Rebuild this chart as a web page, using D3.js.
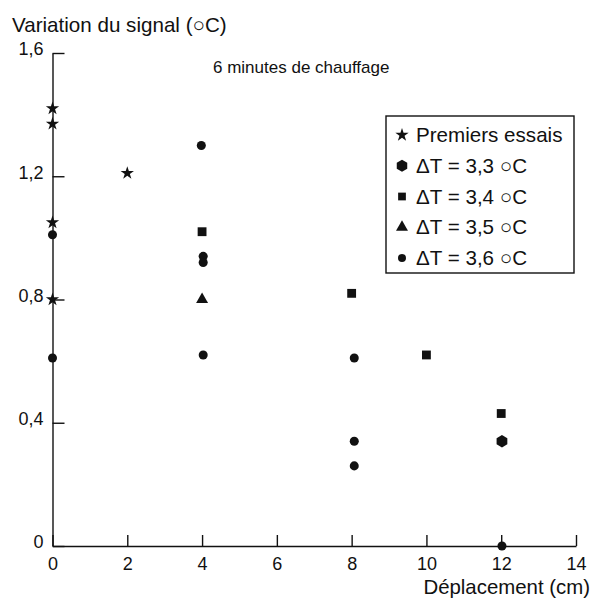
<!DOCTYPE html>
<html>
<head>
<meta charset="utf-8">
<script src="https://cdn.jsdelivr.net/npm/d3@7"></script>
<style>
  html, body { margin: 0; padding: 0; background: #fff; }
  svg { display: block; }
  text { font-family: "Liberation Sans", Arial, Helvetica, sans-serif; fill: #111; }
</style>
</head>
<body>
<svg id="chart" width="593" height="599"></svg>
<script>
// ---- Data ----
const xTicks = [0, 2, 4, 6, 8, 10, 12, 14];
const xTickLabels = ["0", "2", "4", "6", "8", "10", "12", "14"];
const yTicks = [0, 0.4, 0.8, 1.2, 1.6];
const yTickLabels = ["0", "0,4", "0,8", "1,2", "1,6"];

const premiersX = [0, 0, 0, 0, 2];
const premiersY = [1.42, 1.37, 1.05, 0.80, 1.21];

const dt33X = [12.02];
const dt33Y = [0.34];

const dt34X = [4, 8, 10, 12];
const dt34Y = [1.02, 0.82, 0.62, 0.43];

const dt35X = [4];
const dt35Y = [0.80];

const dt36X = [0, 0, 3.98, 4.03, 4.03, 4.03, 8.07, 8.07, 8.07, 12.02];
const dt36Y = [1.01, 0.61, 1.30, 0.94, 0.92, 0.62, 0.61, 0.34, 0.26, 0.0];

const legendLabels = ["Premiers essais", "\u0394T = 3,3 \u25CBC", "\u0394T = 3,4 \u25CBC", "\u0394T = 3,5 \u25CBC", "\u0394T = 3,6 \u25CBC"];

const titleText = "Variation du signal (\u25CBC)";
const subtitleText = "6 minutes de chauffage";
const xAxisTitle = "D\u00E9placement (cm)";

// ---- Layout ----
const svg = d3.select("#chart");
const x = d3.scaleLinear().domain([0, 14]).range([52.5, 576]);
const y = d3.scaleLinear().domain([0, 1.6]).range([546, 53]);

const hexagon = {
  draw(ctx, size) {
    const r = Math.sqrt(size / (1.5 * Math.sqrt(3)));
    for (let i = 0; i < 6; i++) {
      const a = Math.PI / 6 + i * Math.PI / 3;
      const px = r * Math.cos(a), py = r * Math.sin(a);
      if (i === 0) ctx.moveTo(px, py); else ctx.lineTo(px, py);
    }
    ctx.closePath();
  }
};

const series = [
  { xs: premiersX, ys: premiersY, type: d3.symbolStar, size: 55 },
  { xs: dt33X, ys: dt33Y, type: hexagon, size: 100 },
  { xs: dt34X, ys: dt34Y, type: d3.symbolSquare, size: 78 },
  { xs: dt35X, ys: dt35Y, type: d3.symbolTriangle, size: 62 },
  { xs: dt36X, ys: dt36Y, type: d3.symbolCircle, size: 64 }
];

// ---- Axes ----
const yAxis = d3.axisLeft(y)
  .tickValues(yTicks)
  .tickFormat((d, i) => yTickLabels[i])
  .tickSizeInner(-12)
  .tickSizeOuter(0)
  .tickPadding(9);
const gy = svg.append("g").attr("transform", `translate(${x(0)},0)`).call(yAxis);

const xAxis = d3.axisBottom(x)
  .tickValues(xTicks)
  .tickFormat((d, i) => xTickLabels[i])
  .tickSizeInner(-11)
  .tickSizeOuter(0)
  .tickPadding(11.5);
const gx = svg.append("g").attr("transform", `translate(0,${y(0)})`).call(xAxis);

[gx, gy].forEach(g => {
  g.select(".domain").attr("stroke", "#111").attr("stroke-width", 1.4);
  g.selectAll(".tick line").attr("stroke", "#111").attr("stroke-width", 1.4);
  g.selectAll(".tick text").attr("font-size", 18).attr("fill", "#111")
    .style("font-family", "'Liberation Sans', Arial, Helvetica, sans-serif");
});
gy.selectAll(".tick text").attr("dy", "0.1em");
gx.selectAll(".tick text").attr("dy", "0.71em");

// ---- Texts ----
svg.append("text").attr("x", 12).attr("y", 32).attr("font-size", 20.6).text(titleText);
svg.append("text").attr("x", 213).attr("y", 73).attr("font-size", 17).text(subtitleText);
svg.append("text").attr("x", 590).attr("y", 594).attr("font-size", 20.4)
  .attr("text-anchor", "end").text(xAxisTitle);

// ---- Points ----
series.forEach(s => {
  svg.append("g").selectAll("path")
    .data(s.xs.map((v, i) => [v, s.ys[i]]))
    .join("path")
    .attr("transform", d => `translate(${x(d[0])},${y(d[1])})`)
    .attr("d", d3.symbol().type(s.type).size(s.size))
    .attr("fill", "#111");
});

// ---- Legend ----
const lg = svg.append("g");
lg.append("rect").attr("x", 386).attr("y", 116).attr("width", 188).attr("height", 157)
  .attr("fill", "#fff").attr("stroke", "#111").attr("stroke-width", 1.4);
const legendSizes = [55, 95, 60, 62, 50];
series.forEach((s, i) => {
  const by = 142 + i * 30.75;
  lg.append("path")
    .attr("transform", `translate(402,${by - 7})`)
    .attr("d", d3.symbol().type(s.type).size(legendSizes[i]))
    .attr("fill", "#111");
  lg.append("text").attr("x", 416).attr("y", by).attr("font-size", 20.6).text(legendLabels[i]);
});
</script>
</body>
</html>
